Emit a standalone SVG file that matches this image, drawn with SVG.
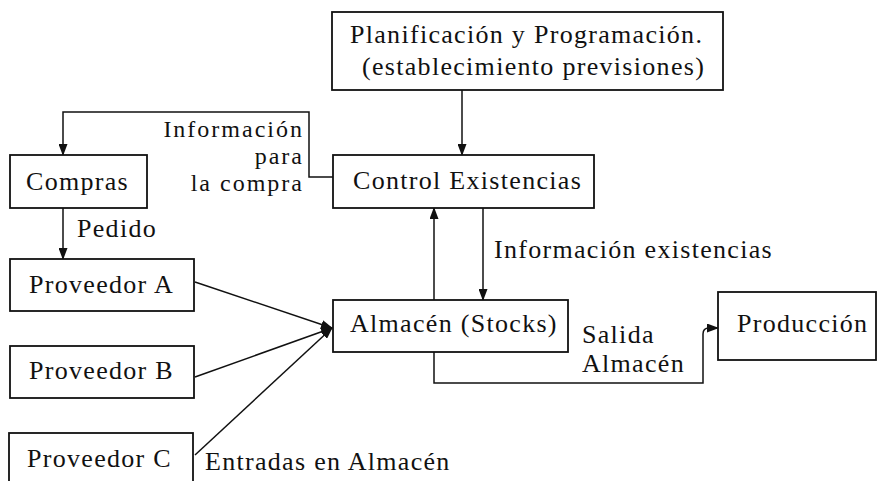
<svg xmlns="http://www.w3.org/2000/svg" width="879" height="481" viewBox="0 0 879 481">
<style>
rect.box{fill:#fff;stroke:#111;stroke-width:1.8}
text{font-family:"Liberation Serif","Times New Roman",serif;font-size:26px;letter-spacing:1.3px;fill:#111}
text.s{font-size:24px;letter-spacing:2px;text-anchor:end}
.c{fill:none;stroke:#111;stroke-width:1.5}
</style>
<defs>
<marker id="ah" markerUnits="userSpaceOnUse" markerWidth="12" markerHeight="9" refX="11" refY="4.5" orient="auto">
<path d="M0,0 L12,4.5 L0,9 z" fill="#111"/>
</marker>
</defs>
<rect width="879" height="481" fill="#fff"/>
<g id="connectors">
<line class="c" x1="462" y1="90" x2="462" y2="155" marker-end="url(#ah)"/>
<polyline class="c" points="333,177 309,177 309,112 63,112 63,155" marker-end="url(#ah)"/>
<line class="c" x1="63" y1="208" x2="63" y2="259" marker-end="url(#ah)"/>
<line class="c" x1="195" y1="282" x2="332" y2="328" marker-end="url(#ah)"/>
<line class="c" x1="195" y1="377" x2="332" y2="328" marker-end="url(#ah)"/>
<line class="c" x1="195" y1="455" x2="332" y2="328" marker-end="url(#ah)"/>
<line class="c" x1="434" y1="300" x2="434" y2="208" marker-end="url(#ah)"/>
<line class="c" x1="483" y1="208" x2="483" y2="300" marker-end="url(#ah)"/>
<path class="c" d="M434,352 L434,383 L703,383 L703,334 Q703,328 709,328 L718,328" marker-end="url(#ah)"/>
</g>
<g id="planificacion">
<rect class="box" x="332" y="12" width="391" height="78"/>
<text x="350" y="43">Planificación y Programación.</text>
<text x="362" y="75">(establecimiento previsiones)</text>
</g>
<g id="control">
<rect class="box" x="333" y="155" width="261" height="53"/>
<text x="353" y="189">Control Existencias</text>
</g>
<g id="compras">
<rect class="box" x="10" y="155" width="137" height="53"/>
<text x="26" y="190">Compras</text>
</g>
<g id="proveedorA">
<rect class="box" x="10" y="259" width="184" height="52"/>
<text x="29" y="293">Proveedor A</text>
</g>
<g id="proveedorB">
<rect class="box" x="10" y="346" width="184" height="52"/>
<text x="29" y="379">Proveedor B</text>
</g>
<g id="proveedorC">
<rect class="box" x="9" y="433" width="184" height="60"/>
<text x="27" y="467">Proveedor C</text>
</g>
<g id="almacen">
<rect class="box" x="333" y="300" width="235" height="52"/>
<text x="350" y="332">Almacén (Stocks)</text>
</g>
<g id="produccion">
<rect class="box" x="718" y="292" width="158" height="68"/>
<text x="737" y="332">Producción</text>
</g>
<g id="labels">
<text class="s" x="304" y="137">Información</text>
<text class="s" x="304" y="164">para</text>
<text class="s" x="304" y="191">la compra</text>
<text x="77" y="237">Pedido</text>
<text x="494" y="258">Información existencias</text>
<text x="582" y="343">Salida</text>
<text x="582" y="372">Almacén</text>
<text x="205" y="470">Entradas en Almacén</text>
</g>
</svg>
